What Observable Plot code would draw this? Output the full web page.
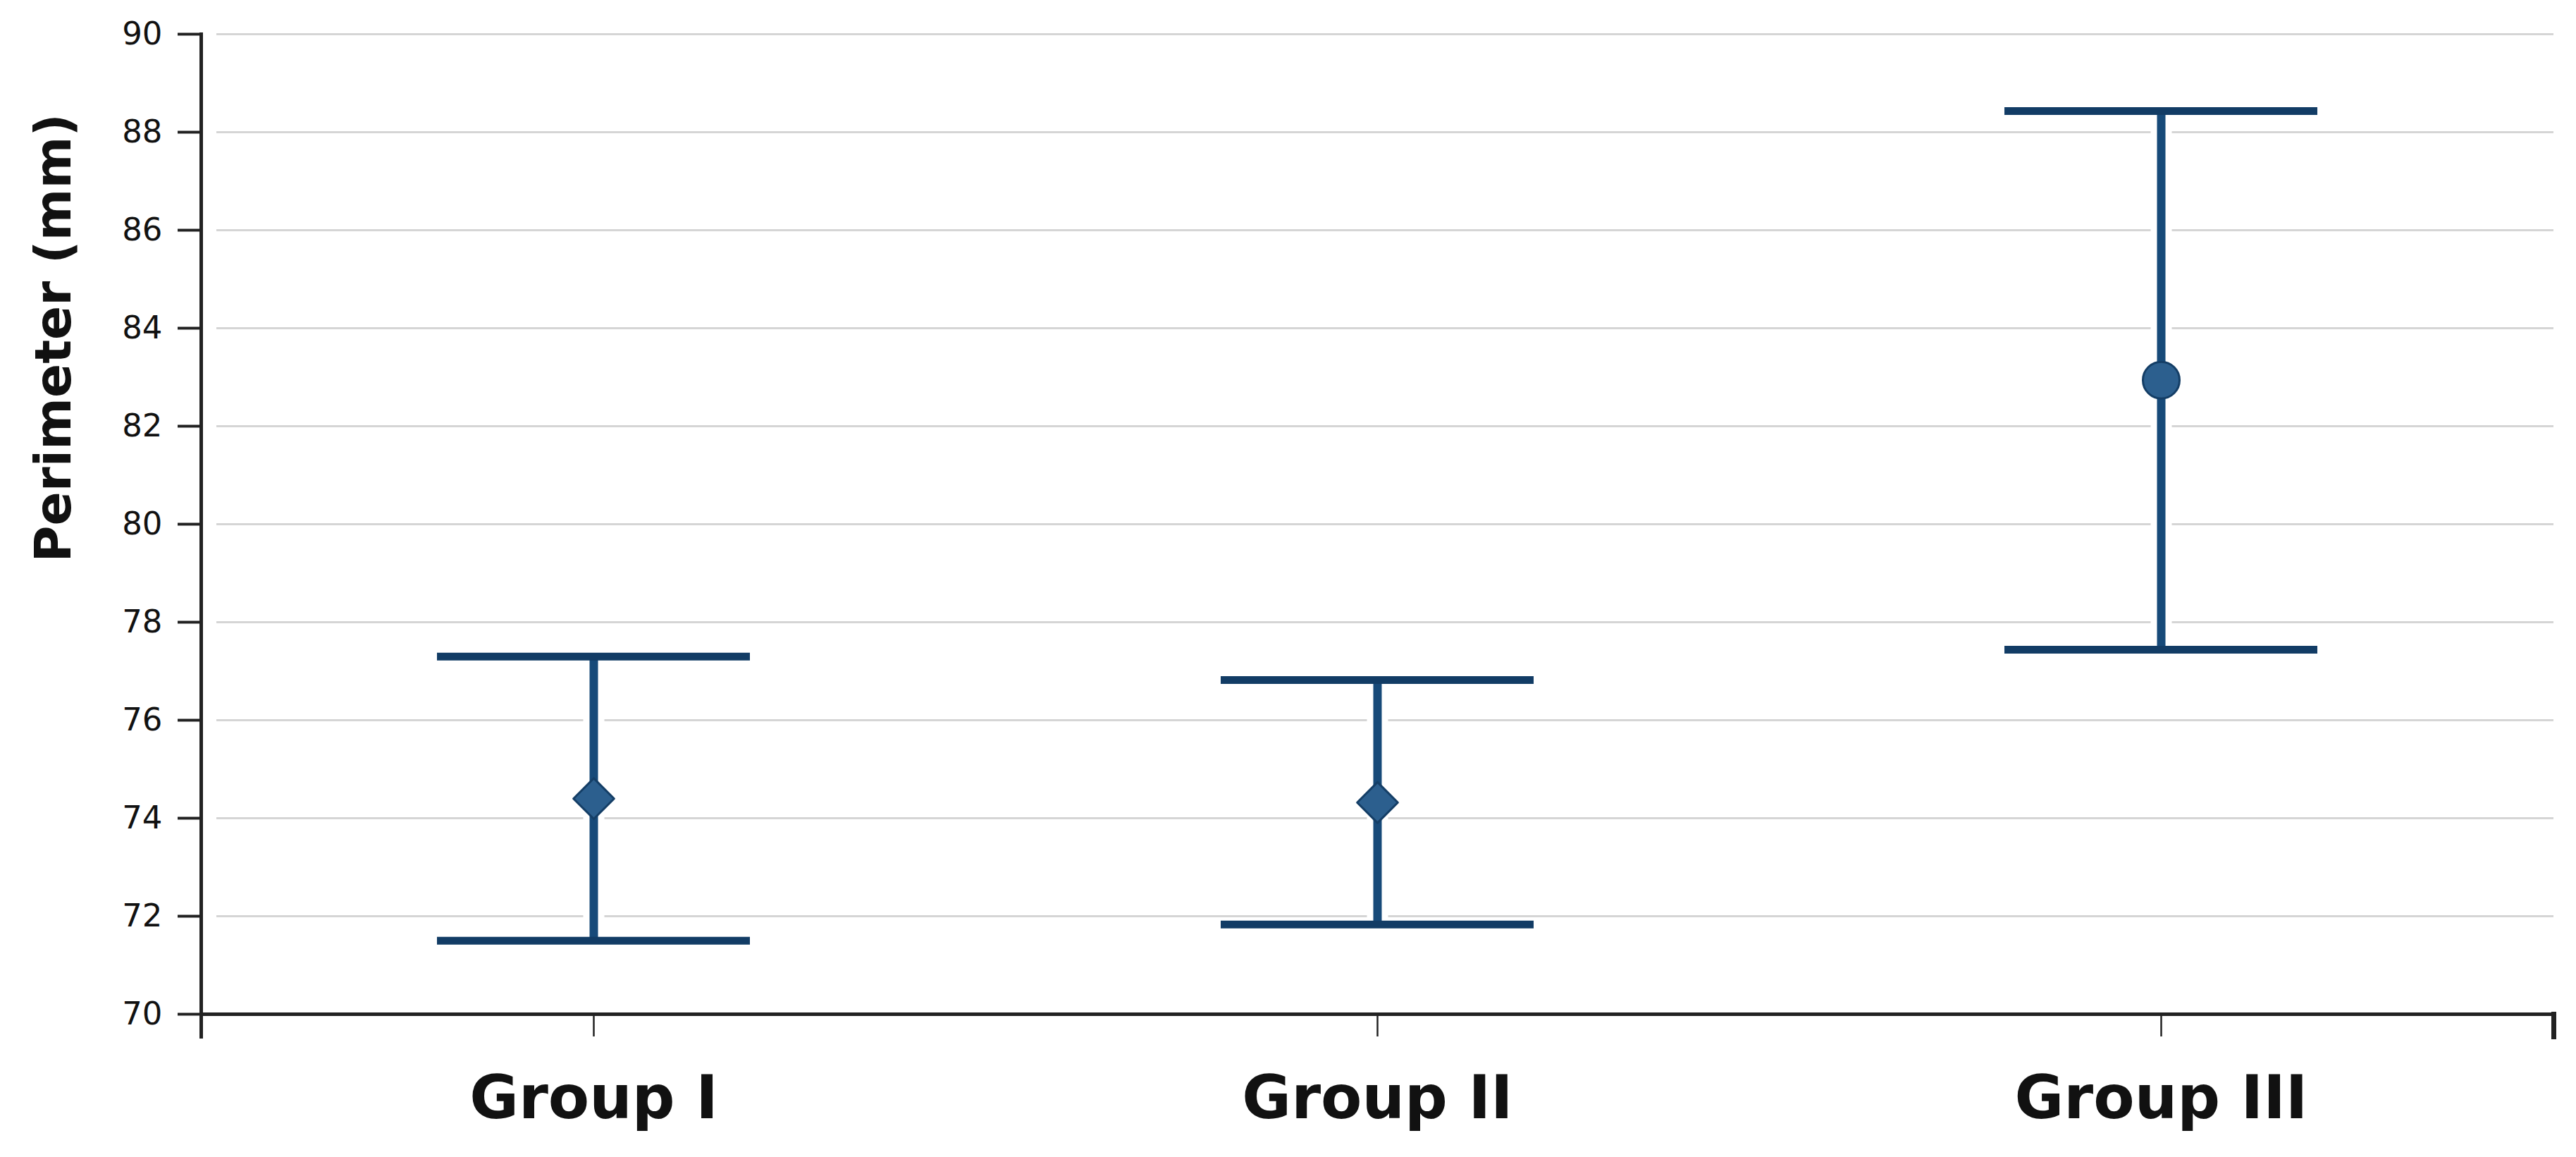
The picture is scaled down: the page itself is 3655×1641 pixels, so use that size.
<!DOCTYPE html>
<html><head><meta charset="utf-8">
<script src="https://cdn.jsdelivr.net/npm/d3@7"></script>
<script src="https://cdn.jsdelivr.net/npm/@observablehq/plot@0.6"></script>
<style>body{margin:0;background:#fff} svg{display:block}</style>
</head><body><div id="chart"></div>
<script>
const groups = ["Group I", "Group II", "Group III"];
const means = [74.4, 74.32, 82.94];
const lowers = [71.5, 71.83, 77.44];
const uppers = [77.3, 76.82, 88.43];
const yTicks = [70, 72, 74, 76, 78, 80, 82, 84, 86, 88, 90];
const gridTicks = yTicks.filter(v => v > 70);
const yTitle = "Perimeter (mm)";

const data = groups.map((g, i) => ({group: g, mean: means[i], lower: lowers[i], upper: uppers[i]}));

const whisker = "#174a79";
const capColor = "#123c65";
const axisColor = "#222";

const chart = Plot.plot({
  width: 3655,
  height: 1641,
  marginTop: 48,
  marginBottom: 203,
  marginLeft: 285,
  marginRight: 32,
  style: {fontFamily: "DejaVu Sans", background: "#fff", color: "#111"},
  x: {type: "band", domain: groups, padding: 0, axis: null},
  y: {domain: [70, 90], axis: null},
  symbol: {domain: groups, range: ["diamond2", "diamond2", "circle"]},
  marks: [
    Plot.ruleY(gridTicks, {stroke: "#d5d5d5", strokeWidth: 3, insetLeft: 22}),
    // white halo behind whiskers
    Plot.ruleX(data, {x: "group", y1: "lower", y2: "upper", stroke: "#fff", strokeWidth: 30}),
    Plot.ruleX(data, {x: "group", y1: "lower", y2: "upper", stroke: whisker, strokeWidth: 12}),
    Plot.tickY(data, {x: "group", y: "upper", stroke: capColor, strokeWidth: 11, insetLeft: 334, insetRight: 334}),
    Plot.tickY(data, {x: "group", y: "lower", stroke: capColor, strokeWidth: 11, insetLeft: 334, insetRight: 334}),
    Plot.dot(data, {x: "group", y: "mean", symbol: "group", r: 26, fill: "#2c5f8e", stroke: "#143e66", strokeWidth: 3, strokeLinejoin: "round"}),
    // axes
    Plot.ruleY([70], {stroke: axisColor, strokeWidth: 5}),
    Plot.frame({anchor: "left", stroke: axisColor, strokeWidth: 5, insetBottom: -32}),
    Plot.frame({anchor: "right", stroke: axisColor, strokeWidth: 7, insetTop: 1390, insetBottom: -32}),
    Plot.axisY(yTicks, {anchor: "left", tickSize: 33, tickPadding: 22, fontSize: 45, strokeWidth: 4, stroke: axisColor, fill: "#111", tickFormat: d => String(d), label: null}),
    Plot.axisX({anchor: "bottom", tickSize: 32, tickPadding: 55, fontSize: 85, fontWeight: "bold", strokeWidth: 2.5, stroke: axisColor, fill: "#111", label: null}),
    Plot.text([yTitle], {frameAnchor: "left", rotate: -90, dx: -208, dy: 54, fontSize: 71, fontWeight: "bold", fill: "#111"})
  ]
});
document.getElementById("chart").appendChild(chart);
</script>
</body></html>
